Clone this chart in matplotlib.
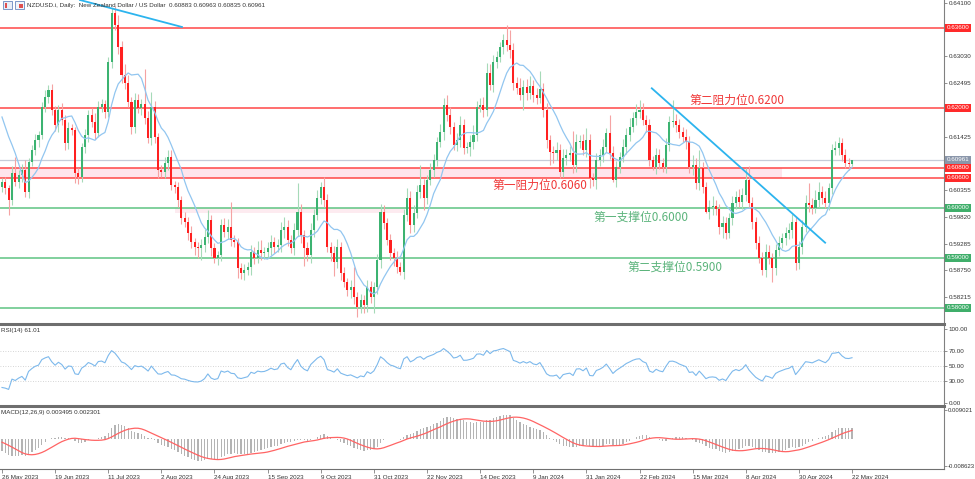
import matplotlib.pyplot as plt
from matplotlib.patches import Rectangle
import numpy as np
import pandas as pd

plt.rcParams['font.family'] = ['Liberation Sans', 'DejaVu Sans']

# closes before the first visible bar (only feed the indicators)
pre_closes = [0.6250, 0.6238, 0.6212, 0.6230, 0.6226, 0.6266, 0.6282, 0.6210, 0.6062, 0.6042]

# daily closes, 26 May 2023 .. 22 May 2024
closes = [
    0.6052, 0.6040, 0.6016, 0.6070, 0.6052, 0.6066, 0.6076, 0.6032, 0.6092, 0.6116, 0.6136, 0.6146, 0.6202, 0.6222, 0.6236, 0.6196,
    0.6166, 0.6196, 0.6176, 0.6130, 0.6160, 0.6156, 0.6070, 0.6062, 0.6122, 0.6146, 0.6186, 0.6172, 0.6150, 0.6202, 0.6208, 0.6192,
    0.6292, 0.6390, 0.6366, 0.6322, 0.6266, 0.6250, 0.6212, 0.6162, 0.6216, 0.6200, 0.6208, 0.6180, 0.6140, 0.6202, 0.6142, 0.6076,
    0.6072, 0.6090, 0.6102, 0.6046, 0.6042, 0.6016, 0.5980, 0.5972, 0.5950, 0.5932, 0.5922, 0.5920, 0.5926, 0.5942, 0.5976, 0.5920,
    0.5900, 0.5906, 0.5966, 0.5952, 0.5962, 0.5936, 0.5932, 0.5880, 0.5870, 0.5876, 0.5882, 0.5912, 0.5900, 0.5916, 0.5910, 0.5912,
    0.5920, 0.5932, 0.5922, 0.5926, 0.5956, 0.5962, 0.5936, 0.5920, 0.5956, 0.5992, 0.5946, 0.5920, 0.5906, 0.5956, 0.5986, 0.6020,
    0.6042, 0.6016, 0.5922, 0.5910, 0.5892, 0.5922, 0.5870, 0.5852, 0.5836, 0.5842, 0.5822, 0.5802, 0.5816, 0.5806, 0.5842, 0.5822,
    0.5842, 0.5896, 0.5992, 0.5970, 0.5936, 0.5910, 0.5900, 0.5882, 0.5872, 0.5986, 0.6020, 0.5966, 0.5990, 0.6032, 0.6046, 0.6020,
    0.6056, 0.6076, 0.6096, 0.6132, 0.6152, 0.6206, 0.6186, 0.6162, 0.6126, 0.6136, 0.6166, 0.6120, 0.6122, 0.6132, 0.6146, 0.6202,
    0.6206, 0.6196, 0.6270, 0.6246, 0.6292, 0.6302, 0.6322, 0.6336, 0.6326, 0.6316, 0.6250, 0.6240, 0.6226, 0.6242, 0.6230, 0.6244,
    0.6226, 0.6220, 0.6238, 0.6196, 0.6136, 0.6112, 0.6110, 0.6116, 0.6072, 0.6100, 0.6106, 0.6110, 0.6086, 0.6132, 0.6134, 0.6116,
    0.6136, 0.6060, 0.6056, 0.6096, 0.6106, 0.6122, 0.6150, 0.6110, 0.6056, 0.6082, 0.6102, 0.6122, 0.6146, 0.6162, 0.6180, 0.6192,
    0.6196, 0.6176, 0.6166, 0.6096, 0.6082, 0.6106, 0.6090, 0.6082, 0.6126, 0.6172, 0.6174, 0.6166, 0.6152, 0.6142, 0.6132, 0.6082,
    0.6086, 0.6050, 0.6080, 0.6042, 0.5992, 0.6002, 0.6004, 0.5998, 0.5962, 0.5970, 0.5950, 0.5980, 0.6010, 0.6022, 0.6012, 0.6026,
    0.6056, 0.6010, 0.5972, 0.5930, 0.5900, 0.5876, 0.5912, 0.5900, 0.5880, 0.5916, 0.5930, 0.5940, 0.5950, 0.5956, 0.5972, 0.5890,
    0.5922, 0.5962, 0.6010, 0.6006, 0.6000, 0.6016, 0.6032, 0.6020, 0.6010, 0.6040, 0.6116, 0.6120, 0.6130, 0.6106, 0.6090, 0.6088, 0.60961,
]

# wick lengths in pips
upper_wick = [
    8, 10, 6, 14, 32, 10, 12, 20, 8, 10, 12, 8, 10, 14, 10, 12,
    8, 10, 14, 10, 12, 8, 6, 10, 8, 12, 10, 14, 18, 12, 10, 8,
    10, 10, 14, 20, 12, 22, 16, 10, 14, 12, 10, 70, 14, 30, 12, 8,
    10, 12, 14, 14, 8, 10, 8, 12, 10, 14, 8, 10, 12, 16, 20, 10,
    10, 8, 12, 14, 16, 50, 10, 8, 10, 12, 10, 14, 10, 18, 20, 10,
    12, 14, 10, 12, 16, 20, 14, 10, 14, 58, 16, 10, 12, 14, 12, 16,
    10, 20, 12, 10, 14, 16, 10, 12, 8, 14, 40, 10, 12, 10, 14, 12,
    10, 12, 16, 14, 10, 12, 10, 14, 10, 12, 20, 14, 16, 14, 40, 12,
    10, 14, 12, 10, 16, 14, 20, 16, 10, 14, 18, 12, 10, 14, 20, 12,
    14, 16, 20, 18, 14, 12, 10, 12, 30, 30, 14, 12, 20, 14, 16, 20,
    12, 14, 36, 12, 14, 10, 12, 16, 12, 18, 12, 14, 44, 16, 12, 14,
    24, 12, 10, 14, 12, 16, 10, 36, 14, 12, 10, 16, 14, 18, 12, 16,
    20, 14, 10, 12, 8, 14, 12, 10, 14, 12, 42, 14, 12, 10, 16, 12,
    20, 14, 36, 12, 10, 14, 20, 12, 10, 14, 12, 10, 14, 12, 16, 14,
    24, 28, 12, 10, 14, 12, 16, 14, 10, 12, 14, 10, 12, 14, 16, 10,
    12, 14, 16, 40, 14, 20, 20, 12, 14, 10, 12, 14, 12, 10, 12, 10, 0.2,
]
lower_wick = [
    10, 12, 30, 10, 8, 12, 14, 10, 12, 8, 10, 14, 8, 10, 12, 10,
    12, 14, 10, 14, 12, 10, 20, 14, 10, 12, 14, 10, 12, 8, 10, 12,
    10, 12, 10, 14, 16, 12, 10, 14, 12, 10, 14, 12, 10, 14, 12, 16,
    10, 12, 14, 10, 12, 14, 12, 10, 14, 12, 16, 20, 24, 14, 12, 16,
    10, 14, 12, 10, 14, 12, 10, 20, 12, 14, 10, 16, 12, 10, 14, 12,
    10, 14, 12, 10, 14, 16, 12, 10, 14, 12, 16, 36, 12, 16, 14, 10,
    12, 14, 10, 16, 28, 12, 14, 10, 12, 16, 14, 20, 12, 16, 14, 12,
    32, 14, 16, 12, 10, 14, 16, 12, 6, 14, 12, 16, 14, 10, 12, 24,
    12, 10, 14, 12, 10, 16, 12, 14, 10, 12, 14, 12, 10, 18, 14, 12,
    10, 14, 12, 10, 14, 12, 10, 14, 12, 16, 14, 12, 10, 30, 14, 12,
    14, 12, 10, 14, 16, 26, 20, 14, 12, 10, 14, 12, 16, 14, 12, 10,
    14, 20, 12, 18, 12, 14, 10, 12, 4, 14, 12, 10, 14, 12, 10, 14,
    12, 10, 14, 12, 6, 14, 12, 10, 12, 12, 10, 14, 12, 10, 14, 12,
    16, 12, 14, 12, 2, 14, 16, 12, 14, 22, 12, 10, 14, 12, 10, 14,
    12, 10, 14, 12, 10, 10, 14, 12, 28, 14, 12, 10, 14, 12, 16, 14,
    12, 14, 10, 14, 12, 10, 14, 12, 10, 14, 12, 10, 14, 12, 10, 12, 4.5,
]

date_labels = ['26 May 2023', '19 Jun 2023', '11 Jul 2023', '2 Aug 2023', '24 Aug 2023',
               '15 Sep 2023', '9 Oct 2023', '31 Oct 2023', '22 Nov 2023', '14 Dec 2023',
               '9 Jan 2024', '31 Jan 2024', '22 Feb 2024', '15 Mar 2024', '8 Apr 2024',
               '30 Apr 2024', '22 May 2024']
price_ticks = [0.58215, 0.58750, 0.59285, 0.59820, 0.60355, 0.60890,
               0.61425, 0.61960, 0.62495, 0.63030, 0.63565, 0.64100]
red_levels = [0.636, 0.620, 0.608, 0.606]
green_levels = [0.600, 0.590, 0.580]
last_price = 0.60961
header = 'NZDUSD.i, Daily:  New Zealand Dollar / US Dollar  0.60883 0.60963 0.60835 0.60961'

RED = '#ff2020'
GREEN = '#3cb371'
LINE_RED = '#ff4646'
LINE_GREEN = '#5ec482'
TXT = '#333333'
FS = 4.5

c = np.array(closes)
o = np.r_[pre_closes[-1], c[:-1]]
hi = np.maximum(o, c) + np.array(upper_wick) * 1e-4
lo = np.minimum(o, c) - np.array(lower_wick) * 1e-4
x = np.arange(len(c))
n_pre = len(pre_closes)

allc = pd.Series(pre_closes + closes)
ma = allc.rolling(10, min_periods=1).mean().values[n_pre:]
d = allc.diff().fillna(0)
gain = d.clip(lower=0).ewm(alpha=1 / 14, adjust=False).mean()
loss = (-d.clip(upper=0)).ewm(alpha=1 / 14, adjust=False).mean()
rsi = (100 - 100 / (1 + gain / loss)).values[n_pre:]
macd = allc.ewm(span=12, adjust=False).mean() - allc.ewm(span=26, adjust=False).mean()
signal = macd.rolling(9, min_periods=1).mean().values[n_pre:]
macd = macd.values[n_pre:]

fig = plt.figure(figsize=(9.75, 4.79), dpi=100)
ax = fig.add_axes([0, 0.3278, 0.9682, 0.6722])
ax_rsi = fig.add_axes([0, 0.1566, 0.9682, 0.167])
ax_macd = fig.add_axes([0, 0.0209, 0.9682, 0.1315])

for a in (ax, ax_rsi, ax_macd):
    a.set_xlim(-0.6, 283.7)
    a.spines['left'].set_visible(False)
    a.spines['right'].set_color('#808080')
    a.spines['top'].set_color('#6e6e6e')
    a.spines['top'].set_linewidth(2.2)
    a.spines['bottom'].set_visible(False)
    a.yaxis.tick_right()
    a.tick_params(axis='y', direction='out', length=2.5, width=0.6, color='#808080',
                  labelsize=FS, labelcolor=TXT, pad=0.8)
    a.tick_params(axis='x', bottom=False, labelbottom=False)
ax.spines['top'].set_visible(False)
ax_macd.spines['bottom'].set_visible(True)
ax_macd.spines['bottom'].set_color('#707070')

# ---- main panel
ax.set_ylim(0.5772, 0.6416)
ax.set_yticks(price_ticks)
ax.set_yticklabels(['' if abs(p - 0.63565) < 1e-6 or abs(p - 0.61960) < 1e-6 or abs(p - 0.60890) < 1e-6
                    else '%.5f' % p for p in price_ticks])

ax.fill_between([-1, 235], 0.606, 0.608, color='#ffe4ec', lw=0, zorder=0)
ax.fill_between([52, 121], 0.599, 0.600, color='#fdebf0', lw=0, zorder=0)
for lv in red_levels:
    ax.axhline(lv, color=LINE_RED, lw=1.1, zorder=1)
for lv in green_levels:
    ax.axhline(lv, color=LINE_GREEN, lw=1.1, zorder=1)
ax.axhline(last_price, color='#c6ccd8', lw=0.9, zorder=1)

up = c >= o
wick_col = np.where(up, '#a6dab8', '#f5a3a3')
ax.vlines(x, lo, hi, colors=wick_col, lw=0.8, zorder=2)
body = np.maximum(np.abs(c - o), 0.00005)
ax.bar(x, body, bottom=np.minimum(o, c), width=0.62,
       color=np.where(up, GREEN, RED), lw=0, zorder=3)
ax.plot(x, ma, color='#92c6f0', lw=0.9, zorder=4)

# trend lines
ax.plot([23.5, 54.2], [0.6416, 0.6362], color='#2cb4ee', lw=1.3, zorder=5)
ax.plot([195.7, 247.9], [0.62394, 0.59306], color='#2cb4ee', lw=1.3, zorder=5)

cjk = ['Noto Sans CJK SC', 'DejaVu Sans']
ax.text(206.9, 0.6216, '第二阻力位0.6200', color='#f03838', fontsize=8.5, family=cjk, va='center', zorder=6)
ax.text(147.6, 0.6046, '第一阻力位0.6060', color='#f03838', fontsize=8.5, family=cjk, va='center', zorder=6)
ax.text(178.0, 0.5982, '第一支撑位0.6000', color='#5cb47c', fontsize=8.5, family=cjk, va='center', zorder=6)
ax.text(188.3, 0.5882, '第二支撑位0.5900', color='#5cb47c', fontsize=8.5, family=cjk, va='center', zorder=6)

tags = [(lv, '#ff2a2a') for lv in red_levels] + [(lv, '#3fae6a') for lv in green_levels]
tags.append((last_price, '#8a96aa'))
for lv, col in tags:
    ax.text(1.003, lv, '%.5f' % lv, transform=ax.get_yaxis_transform(), color='white',
            fontsize=FS, va='center', ha='left', clip_on=False, zorder=10,
            bbox=dict(boxstyle='square,pad=0.25', fc=col, ec='none'))

# header
fig.patches.append(Rectangle((3, 470), 9, 8, transform=None, fc='#e8eef8', ec='#6a88c0', lw=0.6))
fig.patches.append(Rectangle((4.5, 471.5), 2.5, 5, transform=None, fc='#e05050', ec='none'))
fig.patches.append(Rectangle((15, 470), 9, 8, transform=None, fc='#f0f4fa', ec='#6a88c0', lw=0.6))
fig.patches.append(Rectangle((19, 471), 4, 4, transform=None, fc='#e05050', ec='none'))
fig.text(27 / 975, 1 - 5 / 479, header, fontsize=FS, color=TXT, va='center', ha='left', zorder=20)

# ---- RSI
ax_rsi.set_ylim(-1.35, 106.8)
ax_rsi.set_yticks([0, 30, 50, 70, 100])
ax_rsi.set_yticklabels(['0.00', '30.00', '50.00', '70.00', '100.00'])
for lv in (30, 50, 70):
    ax_rsi.axhline(lv, color='#c8c8c8', lw=0.6, ls=(0, (1, 2)))
ax_rsi.plot(x, rsi, color='#7db9ec', lw=0.8)
ax_rsi.text(0.001, 0.92, 'RSI(14) 61.01', transform=ax_rsi.transAxes, fontsize=FS, color=TXT, va='center')

# ---- MACD
ax_macd.set_ylim(-0.009568, 0.010281)
ax_macd.set_yticks([-0.008623, 0.009021])
ax_macd.set_yticklabels(['-0.008623', '0.009021'])
ax_macd.tick_params(axis='y', labelsize=4.3, pad=0.5, length=2)
ax_macd.bar(x, macd, width=0.38, color='#b4b4b4', lw=0)
ax_macd.plot(x, signal, color='#ff6464', lw=0.9)
ax_macd.text(0.001, 0.9, 'MACD(12,26,9) 0.003495 0.002301', transform=ax_macd.transAxes,
             fontsize=FS, color=TXT, va='center')
tick_pos = np.arange(0, len(c), 16)
ax_macd.set_xticks(tick_pos)
ax_macd.set_xticklabels(date_labels, ha='left')
ax_macd.tick_params(axis='x', bottom=True, labelbottom=True, direction='out', length=3,
                    width=0.6, color='#808080', labelsize=FS, labelcolor=TXT, pad=1)

fig.savefig('out.png', dpi=100)
